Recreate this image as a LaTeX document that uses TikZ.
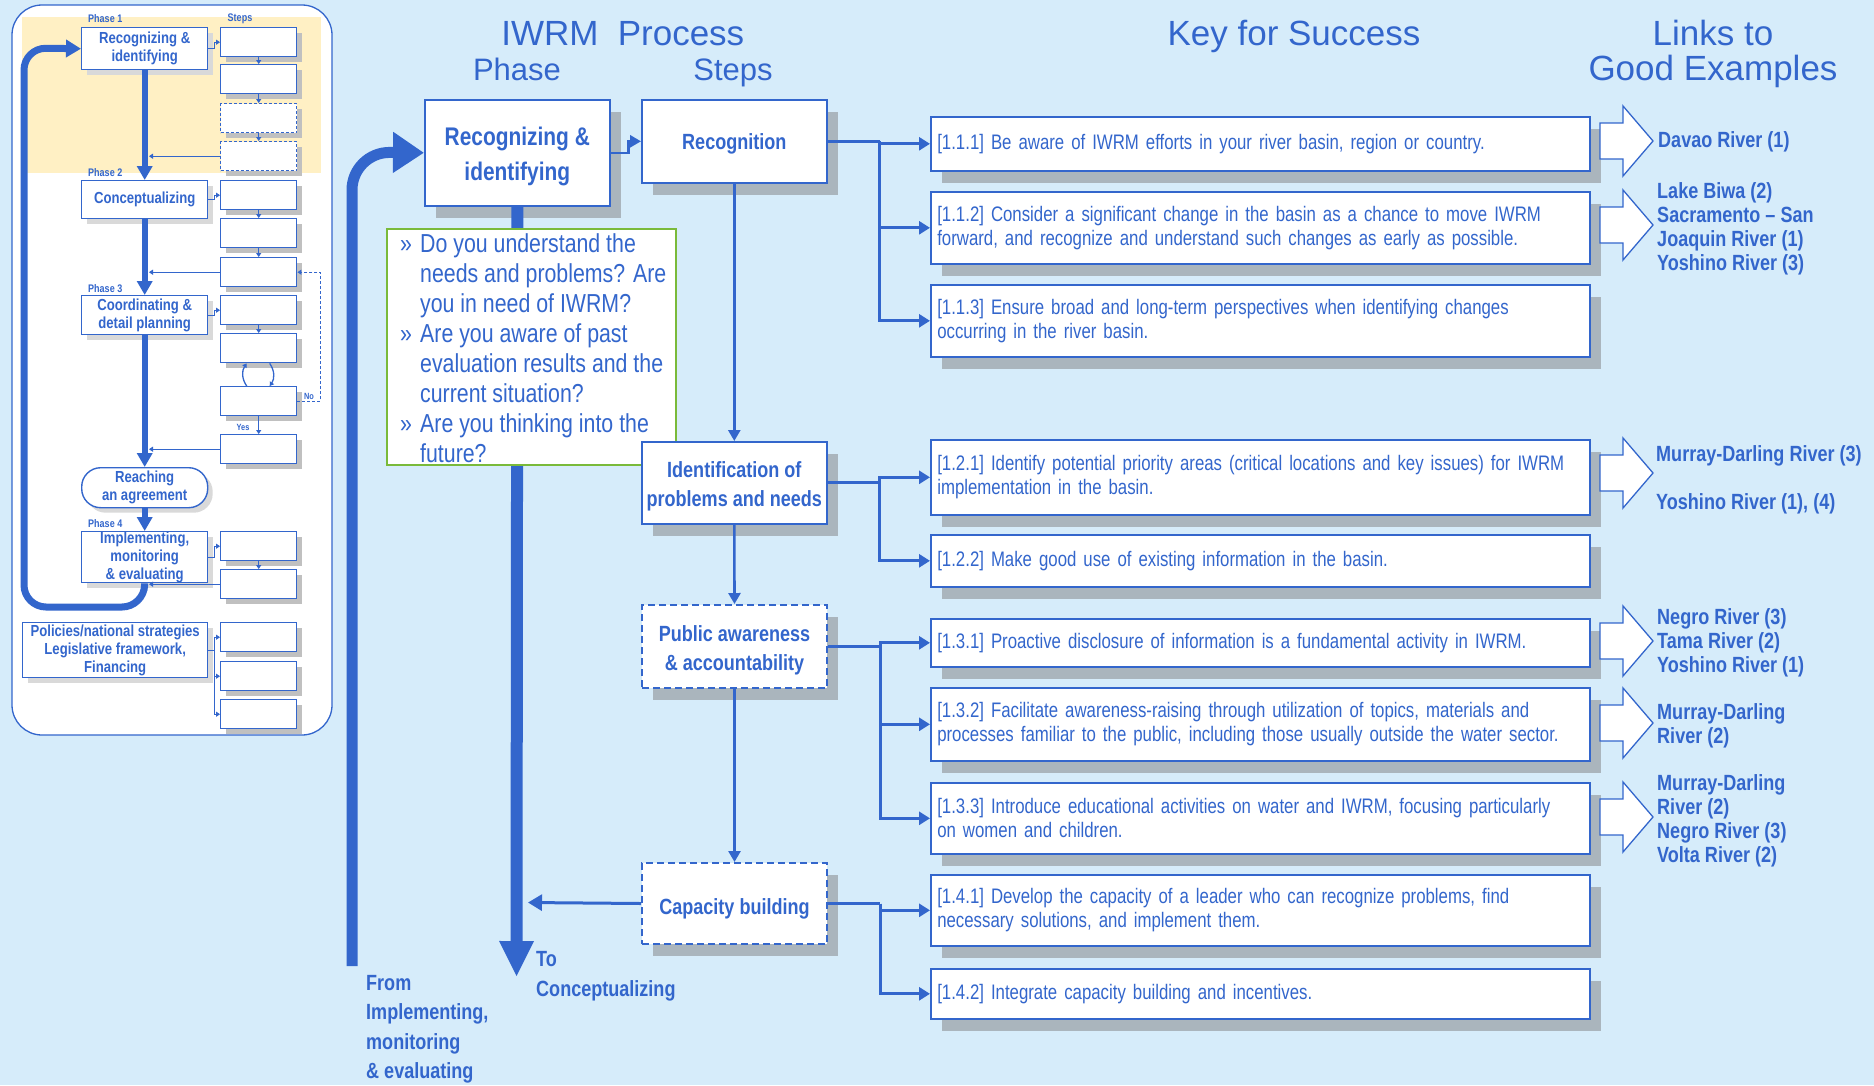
\documentclass[tikz,border=0pt]{standalone}
\usepackage{fontspec}
\setmainfont{Liberation Sans}
\newfontfamily\nar[FakeStretch=0.82]{Liberation Sans}
\newfontfamily\narr[FakeStretch=0.80]{Liberation Sans}
\usetikzlibrary{arrows.meta,shadows}
\definecolor{bgc}{RGB}{214,236,250}
\definecolor{blu}{RGB}{51,102,204}
\definecolor{shdc}{RGB}{170,181,189}
\definecolor{lshdc}{RGB}{192,192,192}
\definecolor{yel}{RGB}{255,240,196}
\definecolor{grn}{RGB}{122,186,58}
\newcommand\dn[1]{\rule{0pt}{#1pt}}
\tikzset{
 bigshadow/.style={drop shadow={shadow xshift=11pt,shadow yshift=-12pt,fill=shdc,opacity=1}},
 smallshadow/.style={drop shadow={shadow xshift=5pt,shadow yshift=-5pt,fill=lshdc,opacity=1}},
 kbox/.style={bigshadow,draw=blu,line width=1.6pt,fill=white,anchor=north west,text width=646pt,inner xsep=6.5pt,inner ysep=0pt,align=left,text=blu,font=\narr\fontsize{21}{24}\selectfont},
 stepbox/.style={bigshadow,draw=blu,line width=1.6pt,fill=white,anchor=north west,minimum width=185pt,inner sep=0pt,align=center,text=blu,font=\nar\bfseries\fontsize{22}{29}\selectfont},
 dstep/.style={stepbox,dash pattern=on 7pt off 4pt,line width=2pt},
 phbox/.style={stepbox,minimum height=106pt,font=\nar\bfseries\fontsize{25.5}{35}\selectfont},
 lphase/.style={drop shadow={shadow xshift=5pt,shadow yshift=-5pt,fill=lshdc!60,opacity=1},draw=blu,line width=1.4pt,fill=white,anchor=north west,minimum width=126pt,inner sep=0pt,align=center,text=blu,font=\nar\bfseries\fontsize{16}{18}\selectfont},
 lstep/.style={smallshadow,draw=blu,line width=1.4pt,fill=white,anchor=north west,minimum width=76pt,minimum height=29pt,inner sep=0pt},
 plabel/.style={text=blu,inner sep=0pt,font=\nar\bfseries\fontsize{11}{12}\selectfont},
 tiny/.style={text=blu,inner sep=0pt,font=\nar\bfseries\fontsize{9}{10}\selectfont},
 thk/.style={draw=blu,line width=6pt,-{Triangle[length=14pt,width=15pt]}},
 lsm/.style={draw=blu,line width=1.3pt,-{Triangle[length=4pt,width=5pt]}},
 conn/.style={draw=blu,line width=2.6pt,-{Triangle[length=11pt,width=12pt]}},
 brl/.style={draw=blu,line width=3pt},
 brarrow/.style={draw=blu,line width=3pt,-{Triangle[length=11pt,width=13pt]}},
 ttl/.style={anchor=base,text=blu,inner sep=0pt,font=\fontsize{35}{40}\selectfont},
 ttls/.style={anchor=base,text=blu,inner sep=0pt,font=\fontsize{31}{36}\selectfont},
 lnk/.style={anchor=west,align=left,text=blu,inner sep=0pt,font=\nar\bfseries\fontsize{22}{24}\selectfont},
 btx/.style={anchor=west,align=left,text=blu,inner sep=0pt,font=\nar\bfseries\fontsize{22}{29.5}\selectfont},
 gtx/.style={anchor=base west,text=blu,inner sep=0pt,font=\nar\fontsize{26}{30}\selectfont},
 larrow/.pic={\draw[blu,line width=1.3pt,fill=white,line join=miter] (0,-18) -- (23,-18) -- (23,-35) -- (53,0) -- (23,35) -- (23,18) -- (0,18) -- cycle;},
}
\begin{document}
\begin{tikzpicture}[x=1pt,y=-1pt]
\fill[bgc] (0,0) rectangle (1874,1085);
\useasboundingbox (0,0) rectangle (1874,1085);

% ---------------- left overview panel
\draw[blu,line width=1.3pt,fill=white,rounded corners=30pt] (12,5) rectangle (332,735);
\fill[yel] (22,17) rectangle (321,173);
\node[plabel,anchor=west] (ph1) at (88,19) {Phase 1};
\node[plabel] (stp) at (240,19) {Steps};
\node[plabel,anchor=west] (ph2) at (88,173) {Phase 2};
\node[plabel,anchor=west] (ph3) at (88,289) {Phase 3};
\node[plabel,anchor=west] (ph4) at (88,524) {Phase 4};

\node[lphase,minimum height=42pt] (P1) at (81,27) {Recognizing \&\\identifying};
\node[lphase,minimum height=38pt] (P2) at (81,180) {Conceptualizing};
\node[lphase,minimum height=39pt] (P3) at (81,295) {Coordinating \&\\detail planning};
\node[lphase,minimum height=40pt,rounded corners=19pt] (RA) at (81,467) {Reaching\\an agreement};
\node[lphase,minimum height=51pt] (P4) at (81,531) {Implementing,\\monitoring\\\& evaluating};
\node[lphase,minimum height=55pt,minimum width=185pt] (PO) at (22,622) {Policies/national strategies\\Legislative framework,\\Financing};

\foreach \n/\t in {1/27,2/64,5/180,6/218,7/257,8/295,9/333,10/386,11/434,12/531,13/569,14/622,15/661,16/699}
  \node[lstep] (s\n) at (220,\t) {};
\foreach \n/\t in {3/103,4/141}
  \node[lstep,dash pattern=on 3pt off 2pt] (s\n) at (220,\t) {};

\foreach \a/\b in {1/2,2/3,3/4,5/6,6/7,8/9,10/11,12/13}
  \draw[lsm] (s\a.south) -- (s\b.north);
\draw[lsm] ([xshift=-12pt]s10.north) to[bend left=35] ([xshift=-12pt]s9.south);
\draw[lsm] ([xshift=11pt]s9.south) to[bend left=35] ([xshift=11pt]s10.north);
\draw[lsm,dash pattern=on 3pt off 2pt] (s10.east) -- ++(23,0) |- (s7.east);
\node[tiny] (nolbl) at (309,396) {No};
\node[tiny] (yeslbl) at (243,427) {Yes};

\draw[lsm] (P1.east) -- ++(6,0) |- (s1.west);
\draw[lsm] (P2.east) -- ++(6,0) |- (s5.west);
\draw[lsm] (P3.east) -- ++(6,0) |- (s8.west);
\draw[lsm] (P4.east) -- ++(6,0) |- (s12.west);
\draw[blu,line width=1.3pt] (PO.east) -- ++(6,0) coordinate (pj);
\foreach \n in {14,15,16} \draw[lsm] (pj) |- (s\n.west);

\coordinate (barx) at (149,0);
\foreach \n in {4,7,11,13} \draw[lsm] (s\n.west) -- (s\n.west -| barx);

\draw[thk] (P1.south) -- (P2.north);
\draw[thk] (P2.south) -- (P3.north);
\draw[thk] (P3.south) -- (RA.north);
\draw[thk] (RA.south) -- (P4.north);
\draw[draw=blu,line width=7pt,rounded corners=22pt,-{Triangle[length=15pt,width=17pt]}] (P4.south) -- (144,607) -- (24,607) -- (24,48) -- (P1.west);

% ---------------- titles
\node[ttl] (tIWRM) at (550,45) {IWRM};
\node[ttl] (tProc) at (681,45) {Process};
\node[ttls] (tPhase) at (517,80) {Phase};
\node[ttls] (tSteps) at (733,80) {Steps};
\node[ttl] (tKey) at (1294,45) {Key for Success};
\node[ttl] (tL1) at (1713,45) {Links to};
\node[ttl] (tL2) at (1713,80) {Good Examples};

% ---------------- main phase
\node[phbox] (mainp) at (424,99) {\dn{25}Recognizing \&\\identifying};
\coordinate (fromimpl) at (352,966);
\draw[draw=blu,line width=11pt,rounded corners=38pt,-{Triangle[length=31pt,width=39pt]}] (fromimpl) -- (352,152) -- (mainp.west);
\coordinate (toconc) at (516.5,977);
\draw[draw=blu,line width=12pt,-{Triangle[length=36pt,width=32pt]}] (mainp.south) -- (toconc);

\node[draw=grn,line width=2pt,fill=white,anchor=north west,minimum width=289pt,minimum height=236pt,inner sep=0pt] (qbox) at (386,228) {};
\foreach \y in {252,342,432} \node[gtx] at (400,\y) {»};
\foreach \y/\t in {252/Do you understand the,282/needs and problems? Are,312/you in need of IWRM?,342/Are you aware of past,372/evaluation results and the,402/current situation?,432/Are you thinking into the,462/future?}
  \node[gtx] at (420,\y) {\t};

\node[btx] (fromtxt) at (366,1029) {From\\Implementing,\\monitoring\\\& evaluating};
\node[btx] (totxt) at (536,976) {To\\Conceptualizing};

% ---------------- process steps
\node[stepbox,minimum height=83pt] (recog) at (641,99) {\dn{21}Recognition};
\node[stepbox,minimum height=82pt] (ident) at (641,441) {\dn{22}Identification of\\problems and needs};
\node[dstep,minimum height=83pt] (public) at (641,604) {\dn{23}Public awareness\\\& accountability};
\node[dstep,minimum height=81pt] (capac) at (641,862) {\dn{27}Capacity building};

\draw[conn] (mainp.east) -- ++(18,0) |- (recog.west);
\draw[conn] (recog.south) -- (ident.north);
\draw[conn] (ident.south) -- (public.north);
\draw[conn] (public.south) -- (capac.north);
\coordinate (capend) at (528,902.5);
\draw[draw=blu,line width=3pt,-{Triangle[length=14pt,width=16pt]}] (capac.west) -- (capend);

% ---------------- key boxes
\node[kbox,minimum height=54pt] (k111) at (930,116) {[1.1.1] Be aware of IWRM efforts in your river basin, region or country.};
\node[kbox,minimum height=72pt] (k112) at (930,191) {[1.1.2] Consider a significant change in the basin as a chance to move IWRM\\forward, and recognize and understand such changes as early as possible.};
\node[kbox,minimum height=72pt] (k113) at (930,284) {[1.1.3] Ensure broad and long-term perspectives when identifying changes\\occurring in the river basin.};
\node[kbox,minimum height=75pt] (k121) at (930,439) {[1.2.1] Identify potential priority areas (critical locations and key issues) for IWRM\\implementation in the basin.};
\node[kbox,minimum height=52pt] (k122) at (930,534) {[1.2.2] Make good use of existing information in the basin.};
\node[kbox,minimum height=48pt] (k131) at (930,618) {[1.3.1] Proactive disclosure of information is a fundamental activity in IWRM.};
\node[kbox,minimum height=73pt] (k132) at (930,687) {[1.3.2] Facilitate awareness-raising through utilization of topics, materials and\\processes familiar to the public, including those usually outside the water sector.};
\node[kbox,minimum height=71pt] (k133) at (930,782) {[1.3.3] Introduce educational activities on water and IWRM, focusing particularly\\on women and children.};
\node[kbox,minimum height=71pt] (k141) at (930,874) {[1.4.1] Develop the capacity of a leader who can recognize problems, find\\necessary solutions, and implement them.};
\node[kbox,minimum height=50pt] (k142) at (930,968) {[1.4.2] Integrate capacity building and incentives.};

\draw[brl] (recog.east) -- ++(52,0) coordinate (b1);
\foreach \kk in {k111,k112,k113} \draw[brarrow] (b1) |- (\kk.west);
\draw[brl] (ident.east) -- ++(52,0) coordinate (b2);
\foreach \kk in {k121,k122} \draw[brarrow] (b2) |- (\kk.west);
\draw[brl] (public.east) -- ++(52,0) coordinate (b3);
\foreach \kk in {k131,k132,k133} \draw[brarrow] (b3) |- (\kk.west);
\draw[brl] (capac.east) -- ++(52,0) coordinate (b4);
\foreach \kk in {k141,k142} \draw[brarrow] (b4) |- (\kk.west);

% ---------------- links
\foreach \y in {141,225,473,641,723,817} \pic at (1600,\y) {larrow};
\node[lnk] (l1) at (1658,142) {Davao River (1)};
\node[lnk] (l2) at (1657,229) {Lake Biwa (2)\\Sacramento – San\\Joaquin River (1)\\Yoshino River (3)};
\node[lnk] (l3) at (1656,480) {Murray-Darling River (3)\\[24pt]Yoshino River (1), (4)};
\node[lnk] (l4) at (1657,643) {Negro River (3)\\Tama River (2)\\Yoshino River (1)};
\node[lnk] (l5) at (1657,726) {Murray-Darling\\River (2)};
\node[lnk] (l6) at (1657,821) {Murray-Darling\\River (2)\\Negro River (3)\\Volta River (2)};
\end{tikzpicture}
\end{document}
